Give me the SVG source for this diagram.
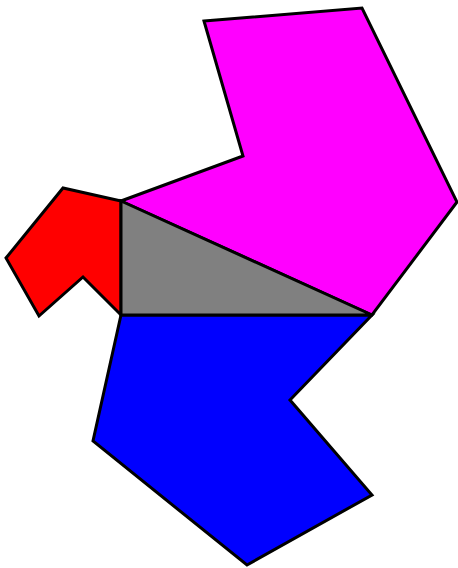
<svg xmlns="http://www.w3.org/2000/svg" width="458" height="568" viewBox="0 0 458 568">
<style>
polygon{stroke:#000;stroke-width:3;stroke-linejoin:miter}
</style>
<rect width="458" height="568" fill="#fff"/>
<polygon id="magenta" fill="#ff00ff" points="204,21 362,8 457,202 372,315 121,201 243,156"/>
<polygon id="red" fill="#ff0000" points="121,201 63,188 6,258 39,316 83,277 121,315"/>
<polygon id="blue" fill="#0000ff" points="121,315 372,315 290,400 372,495 247,565 93,441"/>
<polygon id="gray" fill="#808080" points="121,201 372,315 121,315"/>
</svg>
